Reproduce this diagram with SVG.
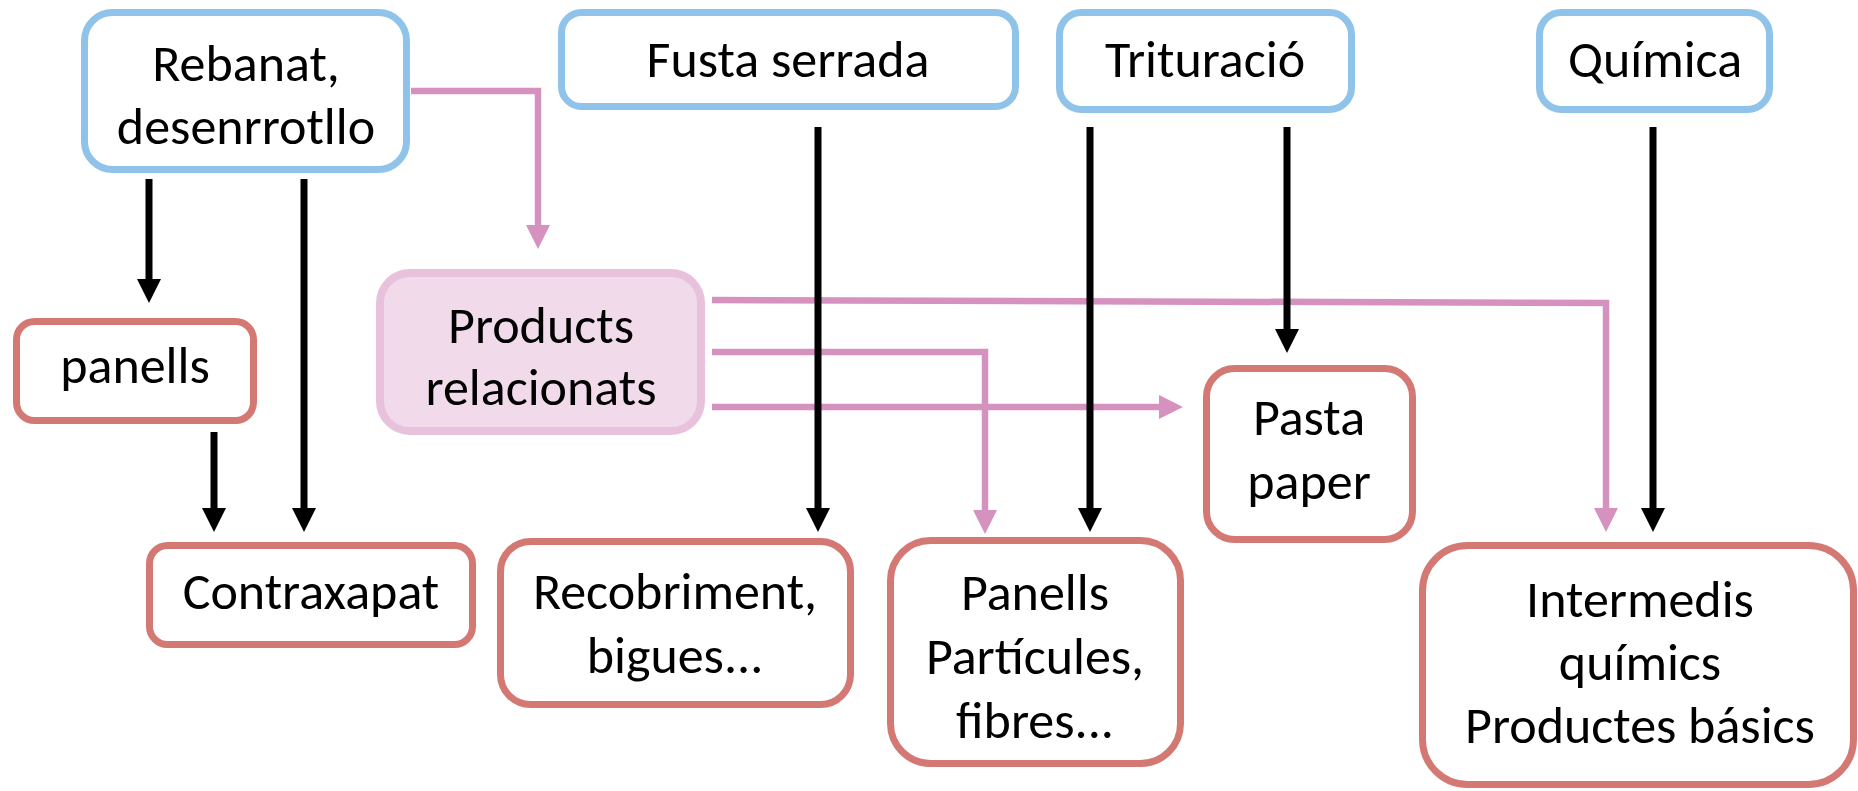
<svg xmlns="http://www.w3.org/2000/svg" width="1858" height="791" viewBox="0 0 1858 791">
<style>
.src{fill:#ffffff;stroke:#8fc3ea;stroke-width:7}
.dst{fill:#ffffff;stroke:#d47874;stroke-width:7}
.rel{fill:#f1dbeb;stroke:#e8c2dd;stroke-width:8}
.t{font-family:Calibri,Carlito,Lato,"Liberation Sans",sans-serif;font-size:52px;fill:#000;text-anchor:middle}
.bk{fill:none;stroke:#000;stroke-width:7}
.pk{fill:none;stroke:#d592bf;stroke-width:6.5}
</style>
<defs>
<marker id="ab" markerUnits="userSpaceOnUse" viewBox="0 0 24 24" markerWidth="24" markerHeight="24" refX="1" refY="12" orient="auto"><path d="M0,0 L24,12 L0,24 z" fill="#000"/></marker>
<marker id="ap" markerUnits="userSpaceOnUse" viewBox="0 0 24 24" markerWidth="24" markerHeight="24" refX="1" refY="12" orient="auto"><path d="M0,0 L24,12 L0,24 z" fill="#d592bf"/></marker>
</defs>
<g id="connectors">
<path class="pk" d="M411,91 H538 V226" marker-end="url(#ap)"/>
<path class="pk" d="M712,300 L1606,303 V509" marker-end="url(#ap)"/>
<path class="pk" d="M712,352 H985 V511" marker-end="url(#ap)"/>
<path class="pk" d="M712,407 H1160" marker-end="url(#ap)"/>
<path class="bk" d="M149,179 V280" marker-end="url(#ab)"/>
<path class="bk" d="M304,179 V509" marker-end="url(#ab)"/>
<path class="bk" d="M214,432 V509" marker-end="url(#ab)"/>
<path class="bk" d="M818,127 V509" marker-end="url(#ab)"/>
<path class="bk" d="M1090,127 V509" marker-end="url(#ab)"/>
<path class="bk" d="M1287,127 V330" marker-end="url(#ab)"/>
<path class="bk" d="M1653,127 V509" marker-end="url(#ab)"/>
</g>
<g id="n-rebanat">
<rect class="src" x="84.5" y="12.5" width="322" height="157" rx="28"/>
<text class="t" x="246" y="81">Rebanat,</text>
<text class="t" x="246" y="144">desenrrotllo</text>
</g>
<g id="n-fusta">
<rect class="src" x="561.5" y="12.5" width="454" height="94" rx="20"/>
<text class="t" x="788" y="77">Fusta serrada</text>
</g>
<g id="n-trituracio">
<rect class="src" x="1059.5" y="12.5" width="292" height="97" rx="22"/>
<text class="t" x="1205" y="77">Trituració</text>
</g>
<g id="n-quimica">
<rect class="src" x="1539.5" y="12.5" width="230" height="97" rx="22"/>
<text class="t" x="1655" y="77">Química</text>
</g>
<g id="n-panells">
<rect class="dst" x="16.5" y="321.5" width="237" height="99" rx="18"/>
<text class="t" x="135" y="383">panells</text>
</g>
<g id="n-products">
<rect class="rel" x="380" y="273" width="321" height="158" rx="30"/>
<text class="t" x="541" y="343">Products</text>
<text class="t" x="541" y="405">relacionats</text>
</g>
<g id="n-pasta">
<rect class="dst" x="1206.5" y="368.5" width="206" height="171" rx="28"/>
<text class="t" x="1309" y="435">Pasta</text>
<text class="t" x="1309" y="499">paper</text>
</g>
<g id="n-contraxapat">
<rect class="dst" x="149.5" y="545.5" width="323" height="99" rx="18"/>
<text class="t" x="311" y="609">Contraxapat</text>
</g>
<g id="n-recobriment">
<rect class="dst" x="500.5" y="541.5" width="350" height="163" rx="30"/>
<text class="t" x="675" y="609">Recobriment,</text>
<text class="t" x="675" y="673">bigues...</text>
</g>
<g id="n-panells2">
<rect class="dst" x="890.5" y="540.5" width="290" height="223" rx="40"/>
<text class="t" x="1035" y="610">Panells</text>
<text class="t" x="1035" y="674">Partícules,</text>
<text class="t" x="1035" y="738">fibres...</text>
</g>
<g id="n-intermedis">
<rect class="dst" x="1422.5" y="545.5" width="431" height="239" rx="45"/>
<text class="t" x="1640" y="617">Intermedis</text>
<text class="t" x="1640" y="680">químics</text>
<text class="t" x="1640" y="743">Productes básics</text>
</g>
</svg>
